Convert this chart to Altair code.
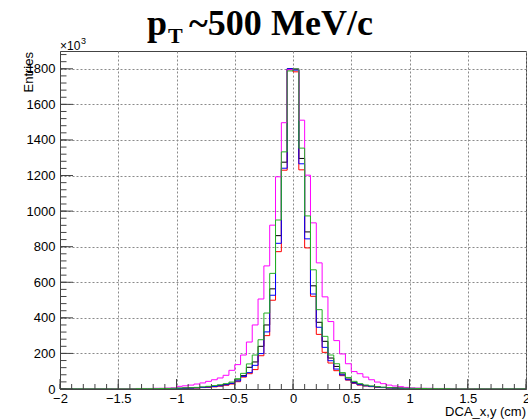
import altair as alt
import pandas as pd

# bin edges of the histogram (80 bins of 0.05 cm between -2 and 2)
edges = [round(-2 + 0.05 * i, 2) for i in range(81)]

black = [0,0,0,0,0,0,0,0,0,1,1,1,1,1,1,2,2,2,3,3,
         4,5,6,7,9,12,15,19,25,32,51,75,122,152,240,360,563,862,1275,1800,
         1795,1296,883,580,375,268,174,127,84,56,36,26,20,15,12,9,7,6,5,4,
         3,3,2,2,2,1,1,1,1,1,1,0,0,0,0,0,0,0,0,0]
red = [0,0,0,0,0,0,0,0,0,1,1,1,1,1,1,1,2,2,2,3,
       3,4,5,6,8,10,12,16,21,28,41,67,86,109,187,300,499,772,1230,1795,
       1783,1232,793,521,307,206,146,103,75,50,32,22,17,13,10,8,6,5,4,3,
       2,2,2,1,1,1,1,1,1,0,0,0,0,0,0,0,0,0,0,0]
blue = [0,0,0,0,0,0,0,0,0,1,1,1,1,1,1,1,2,2,2,3,
        3,4,5,7,9,11,14,18,24,32,45,71,92,133,199,321,527,819,1241,1800,
        1793,1266,844,534,347,234,159,112,79,52,34,24,18,14,11,8,6,5,4,3,
        3,2,2,2,1,1,1,1,1,1,0,0,0,0,0,0,0,0,0,0]
magenta = [0,0,0,0,1,1,1,1,1,2,2,2,2,3,3,3,4,4,5,6,
           15,18,22,28,34,43,52,62,77,105,137,191,264,360,506,692,921,1193,1497,1795,
           1800,1511,1202,934,709,518,379,272,197,142,98,86,67,52,39,30,22,17,13,9,
           6,5,4,4,3,3,3,2,2,2,2,1,1,1,1,1,0,0,0,0]
green = [1,1,1,1,1,1,1,1,1,1,1,1,1,2,2,2,2,3,3,4,
         5,6,7,9,12,15,19,24,30,39,58,88,141,191,277,427,650,950,1333,1788,
         1800,1354,973,670,446,296,191,142,92,65,43,30,22,17,13,10,8,6,5,4,
         4,3,3,2,2,2,2,1,1,1,1,1,1,1,1,1,1,1,1,1]

series = [("black", black, "#000000"),
          ("red", red, "#ff0000"),
          ("blue", blue, "#0000ff"),
          ("magenta", magenta, "#ff00ff"),
          ("green", green, "#22b022")]

x_major = [-2, -1.5, -1, -0.5, 0, 0.5, 1, 1.5, 2]
x_minor = [round(-2 + 0.1 * i, 1) for i in range(41)]
y_major = [0, 200, 400, 600, 800, 1000, 1200, 1400, 1600, 1800]
y_minor = [40 * i for i in range(48)]

W, H = 466, 338
LABEL_FONT = "Liberation Sans"
TITLE_FONT = "Liberation Serif"

x_scale = alt.Scale(domain=[-2, 2], nice=False, zero=False)
y_scale = alt.Scale(domain=[0, 1900], nice=False, zero=False)

frame_col = "#444444"
grid_col = "#8a8a8a"

x_axis = alt.Axis(values=x_major, format="~g", grid=True, gridDash=[2, 2],
                  gridColor=grid_col, ticks=False, domain=True, domainColor=frame_col,
                  labelFont=LABEL_FONT, labelFontSize=13, labelColor="#000000",
                  labelPadding=3, labelFlush=False, labelOverlap=False, title=None)
y_axis = alt.Axis(values=y_major, format="d", grid=True, gridDash=[2, 2],
                  gridColor=grid_col, ticks=False, domain=True, domainColor=frame_col,
                  labelFont=LABEL_FONT, labelFontSize=13, labelColor="#000000",
                  labelPadding=5, labelFlush=False, labelOverlap=False, title=None)

layers = []
for name, vals, col in series:
    rows = [{"x": edges[i], "v": v} for i, v in enumerate(vals)]
    rows.append({"x": edges[-1], "v": vals[-1]})
    df = pd.DataFrame(rows)
    ch = alt.Chart(df).mark_line(interpolate="step-after", color=col, strokeWidth=1,
                                 clip=True).encode(
        x=alt.X("x:Q", scale=x_scale, axis=x_axis),
        y=alt.Y("v:Q", scale=y_scale, axis=y_axis),
    )
    layers.append(ch)

# inward ticks (ROOT style)
xmaj = alt.Chart(pd.DataFrame({"x": x_major})).mark_rule(color=frame_col).encode(
    x=alt.X("x:Q", scale=x_scale, axis=x_axis), y=alt.value(H), y2=alt.value(H - 10))
xmin = alt.Chart(pd.DataFrame({"x": x_minor})).mark_rule(color=frame_col).encode(
    x=alt.X("x:Q", scale=x_scale, axis=x_axis), y=alt.value(H), y2=alt.value(H - 5))
ymaj = alt.Chart(pd.DataFrame({"v": y_major})).mark_rule(color=frame_col).encode(
    y=alt.Y("v:Q", scale=y_scale, axis=y_axis), x=alt.value(0), x2=alt.value(13))
ymin = alt.Chart(pd.DataFrame({"v": y_minor})).mark_rule(color=frame_col).encode(
    y=alt.Y("v:Q", scale=y_scale, axis=y_axis), x=alt.value(0), x2=alt.value(6.5))
layers += [xmaj, xmin, ymaj, ymin]

one = pd.DataFrame({"k": [0]})


def txt(text, x, y, size, font=LABEL_FONT, weight="normal", align="left",
        baseline="alphabetic", angle=0):
    kw = dict(font=font, fontSize=size, fontWeight=weight, align=align,
              baseline=baseline, color="#000000")
    if angle:
        kw["angle"] = angle
    return alt.Chart(one).mark_text(**kw).encode(
        x=alt.value(x), y=alt.value(y), text=alt.value(text))


layers += [
    txt("p", 87, -16, 36, TITLE_FONT, "bold"),
    txt("T", 108, -8, 22, TITLE_FONT, "bold"),
    txt("~500", 129, -16, 36, TITLE_FONT, "bold"),
    txt("MeV/c", 211, -16, 36, TITLE_FONT, "bold"),
    txt("×10", 0, -1, 12),
    txt("3", 21, -7, 9),
    txt("Entries", -27, 1, 13, align="right", angle=270),
    txt("DCA_x,y (cm)", W, H + 27, 13, align="right"),
]

chart = alt.layer(*layers).properties(
    width=W, height=H,
    padding={"left": 60, "top": 51, "right": 2, "bottom": 31},
    autosize=alt.AutoSizeParams(type="none"),
).configure_view(stroke=frame_col, strokeWidth=1)

chart.save("out.html", embed_options={"renderer": "svg", "actions": False})
